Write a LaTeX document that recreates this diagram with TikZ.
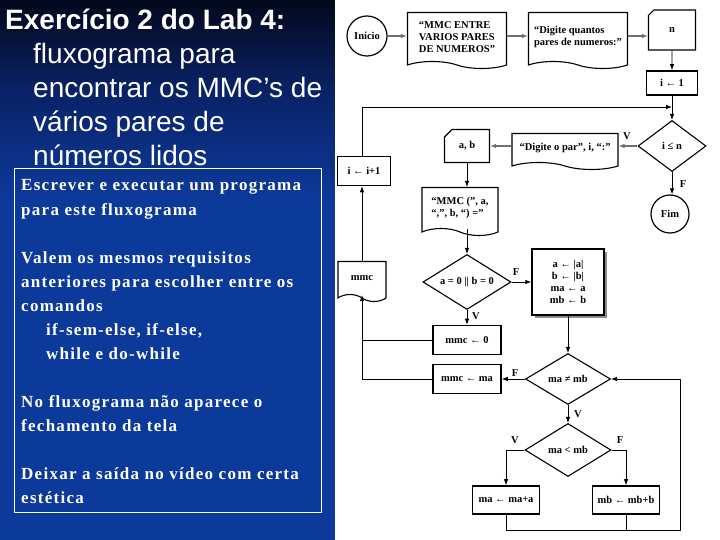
\documentclass[tikz,border=0pt]{standalone}
\usepackage{fontspec}
\setmainfont{Liberation Serif}
\newfontfamily\slidesans{Liberation Sans}
\newfontfamily\notaserif[LetterSpace=7.5]{Liberation Serif}
\usetikzlibrary{arrows.meta,shapes.geometric,shapes.symbols,shapes.misc,shadows}
\definecolor{slidetop}{HTML}{03081C}
\definecolor{slidemid}{HTML}{0A2266}
\definecolor{slideblue}{HTML}{0C3A9A}
\definecolor{setagray}{HTML}{707070}

\begin{document}
\begin{tikzpicture}[x=1pt,y=-1pt,>={Latex[length=6pt,width=4.5pt]},
    titulo/.style={font=\fontsize{28}{34}\selectfont\slidesans,text=white,anchor=base west,inner sep=0pt},
    nota/.style={font=\fontsize{17}{24}\selectfont\notaserif\bfseries,text=white,anchor=base west,inner sep=0pt},
    fc/.style={font=\fontsize{10.5}{12}\selectfont\bfseries},
    inicio/.style={fc,circle,draw,line width=1.2pt,inner sep=0pt},
    docu/.style={fc,tape,tape bend top=none,tape bend bottom=out and in,tape bend height=7pt,draw,line width=1.1pt,align=left,inner sep=0pt},
    entrada/.style={fc,chamfered rectangle,chamfered rectangle corners=north west,draw,line width=1.1pt,inner sep=0pt},
    proc/.style={fc,rectangle,draw,fill=white,line width=1.6pt,inner sep=0pt},
    decisao/.style={fc,diamond,aspect=1.6,draw,line width=1.1pt,inner sep=0pt},
    rotulo/.style={fc,inner sep=0pt},
    seta/.style={->,line width=0.8pt},
    cinza/.style={->,draw=setagray,line width=1.4pt}]
\useasboundingbox (0,0) rectangle (720,540);

% fundo do slide
\fill[slideblue] (0,0) rectangle (335,540);
\shade[top color=slidetop,bottom color=slidemid] (0,0) rectangle (335,90);
\shade[top color=slidemid,bottom color=slideblue] (0,90) rectangle (335,200);
\fill[white] (335,0) rectangle (720,540);

% texto do slide
\node[titulo] (tit0) at (5,30) {\bfseries Exercício 2 do Lab 4:};
\foreach \linha [count=\k] in {fluxograma para,encontrar os MMC’s de,vários pares de,números lidos}
  \node[titulo] (tit\k) at (33,{30+34*\k}) {\linha};

\draw[white,line width=0.8pt] (14,168) rectangle (321,512);
\foreach \linha/\xb/\yb [count=\k] in {Escrever e executar um programa/21/191,
    para este fluxograma/21/215,Valem os mesmos requisitos/21/263,
    anteriores para escolher entre os/21/287,comandos/21/311,
    {if-sem-else, if-else,}/46/335,while e do-while/46/359,
    No fluxograma não aparece o/21/407,fechamento da tela/21/431,
    Deixar a saída no vídeo com certa/21/479,estética/21/503}
  \node[nota] (nota\k) at (\xb,\yb) {\linha};

% fluxograma
\node[inicio,minimum size=40pt] (ini) at (367,36) {Início};
\node[docu,minimum width=99pt,minimum height=56pt] (msg1) at (457,37) {“MMC ENTRE\\VARIOS PARES\\DE NUMEROS”};
\node[docu,minimum width=99pt,minimum height=56pt] (msg2) at (578,37) {“Digite quantos\\pares de numeros:”};
\node[entrada,minimum width=47pt,minimum height=40pt,chamfered rectangle xsep=10pt] (lern) at (672,30) {n};
\node[proc,minimum width=51pt,minimum height=24pt] (ium) at (672,83) {i ← 1};
\node[decisao,minimum width=68pt,minimum height=51pt] (ile) at (672,146) {i ≤ n};
\node[inicio,minimum size=38pt] (fim) at (670,214) {Fim};
\node[docu,minimum width=106pt,minimum height=36pt] (msgpar) at (565,148) {“Digite o par”, i, “:”};
\node[entrada,minimum width=45pt,minimum height=33pt,chamfered rectangle xsep=8pt] (lerab) at (467,146) {a, b};
\node[docu,minimum width=76pt,minimum height=48pt] (msgmmc) at (460,208) {“MMC (”, a,\\“,”, b, “) =”};
\node[decisao,minimum width=88pt,minimum height=55pt] (zero) at (467,282) {a = 0 || b = 0};
\node[proc,minimum width=72pt,minimum height=66pt,align=center,line width=1.4pt,
  drop shadow={shadow xshift=2.5pt,shadow yshift=-2.5pt,fill=black!45,opacity=1}] (absol) at (568,282)
  {a ← |a|\\b ← |b|\\ma ← a\\mb ← b};
\node[proc,minimum width=68pt,minimum height=29pt] (mmczero) at (467,340) {mmc ← 0};
\node[proc,minimum width=68pt,minimum height=29pt] (mmcma) at (467,379) {mmc ← ma};
\node[docu,minimum width=48pt,minimum height=40pt] (saimmc) at (362,278) {mmc};
\node[proc,minimum width=53pt,minimum height=29pt] (incr) at (364,171) {i ← i+1};
\node[decisao,minimum width=85pt,minimum height=51pt] (difer) at (568,379) {ma ≠ mb};
\node[decisao,minimum width=86pt,minimum height=53pt] (menor) at (568,450) {ma < mb};
\node[proc,minimum width=67pt,minimum height=28pt] (soma) at (506,500) {ma ← ma+a};
\node[proc,minimum width=67pt,minimum height=28pt] (somb) at (626,500) {mb ← mb+b};

\coordinate (retorno) at (362,107);
\coordinate (baixo) at (680,530);

\draw[cinza] (ini.east) -- (ini.east -| msg1.west);
\draw[cinza] (msg1.east |- ini.east) -- (msg2.west |- ini.east);
\draw[cinza] (msg2.east |- ini.east) -- (lern.west |- ini.east);
\draw[seta] (lern) -- (ium);
\draw[seta] (ium) -- (ile);
\draw[seta] (incr.north -| retorno) -- (retorno) -- (retorno -| ile.north);
\draw[seta] (ile.south) -- (ile.south |- fim.north);
\draw[cinza] (ile.west) -- (msgpar.east |- ile.west);
\draw[cinza] (msgpar.west |- lerab.east) -- (lerab.east);
\draw[seta] (lerab.south) -- (lerab.south |- msgmmc.north);
\draw[seta] (msgmmc.south -| zero.north) -- (zero.north);
\draw[seta] (zero.east) -- (absol.west);
\draw[seta] (zero.south) -- (mmczero.north);
\draw[seta] (absol.south) -- (difer.north);
\draw[seta] (difer.west) -- (mmcma.east);
\draw[seta] (difer.south) -- (menor.north);
\draw[seta] (menor.west) -| (soma.north);
\draw[seta] (menor.east) -| (somb.north);
\draw[seta] (soma.south) |- (baixo) |- (difer.east);
\draw[line width=0.8pt] (somb.south) -- (somb.south |- baixo);
\draw[line width=0.8pt] (mmczero.west) -- (mmczero.west -| saimmc.south);
\draw[seta] (mmcma.west) -| (saimmc.south);
\draw[seta] (saimmc.north) -- (saimmc.north |- incr.south);

\node[rotulo] (v1) at (627,136) {V};
\node[rotulo] (f1) at (683,184) {F};
\node[rotulo] (f2) at (516,272) {F};
\node[rotulo] (v2) at (476,316) {V};
\node[rotulo] (f3) at (515,373) {F};
\node[rotulo] (v3) at (578,414) {V};
\node[rotulo] (v4) at (515,440) {V};
\node[rotulo] (f4) at (620,440) {F};
\end{tikzpicture}
\end{document}
